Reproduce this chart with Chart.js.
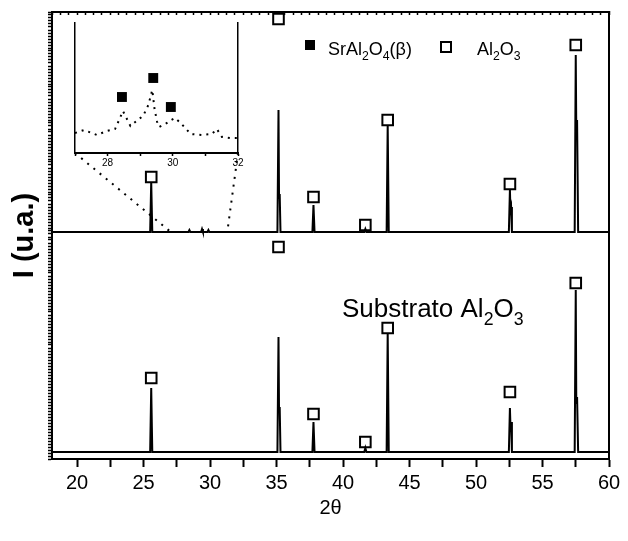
<!DOCTYPE html>
<html>
<head>
<meta charset="utf-8">
<script src="https://cdn.jsdelivr.net/npm/chart.js@4.4.1/dist/chart.umd.min.js"></script>
<style>
  body { margin: 0; background: #fff; }
  #wrap { position: relative; width: 628px; height: 541px; }
  #inset { position: absolute; left: 65px; top: 15px; }
</style>
</head>
<body>
<div id="wrap">
  <canvas id="xrd" width="628" height="541"></canvas>
  <canvas id="inset" width="190" height="165"></canvas>
</div>
<script>
// film on sapphire (upper pattern), intensity above its own baseline
const filmAngle = [18.12, 25.50, 25.58, 25.66, 28.38, 28.45, 28.52, 29.33, 29.40, 29.47, 29.81, 29.88, 29.95,
  35.07, 35.15, 35.19, 35.24, 35.30, 37.70, 37.78, 37.86, 41.60, 41.68, 41.76, 43.28, 43.36, 43.44,
  52.47, 52.55, 52.59, 52.64, 52.70, 57.42, 57.50, 57.54, 57.60, 57.68, 60.00];
const filmCount = [0, 0, 50, 0, 0, 2, 0, 0, 3, 0, 0, 2, 0,
  0, 122, 34, 38, 0, 0, 27, 0, 0, 3, 0, 0, 107, 0,
  0, 42, 22, 25, 0, 0, 177, 100, 112, 0, 0];

// bare substrate (lower pattern)
const subAngle = [18.12, 25.50, 25.58, 25.66, 35.07, 35.15, 35.19, 35.24, 35.30, 37.70, 37.78, 37.86,
  41.60, 41.68, 41.76, 43.28, 43.36, 43.44, 52.47, 52.55, 52.59, 52.64, 52.70,
  57.42, 57.50, 57.54, 57.60, 57.68, 60.00];
const subCount = [0, 0, 64, 0, 0, 115, 40, 45, 0, 0, 30, 0,
  0, 4, 0, 0, 119, 0, 0, 44, 26, 30, 0,
  0, 162, 48, 55, 0, 0];

// vertical shift of the film pattern
const filmOffset = 220;

// Al2O3 reflections and where their open squares sit
const peakAngle = [25.58, 35.15, 37.78, 41.68, 43.36, 52.55, 57.50];
const filmMark = [55, 213, 35, 7, 112, 48, 187];
const subMark = [74, 205, 38, 10, 124, 60, 169];

// inset: SrAl2O4 region of the film pattern
const insetAngle = [27.00, 27.28, 27.67, 27.97, 28.23, 28.38, 28.47, 28.70, 28.96, 29.09, 29.25, 29.37, 29.44,
  29.52, 29.58, 29.82, 29.95, 30.07, 30.24, 30.55, 30.90, 31.20, 31.35, 31.51, 31.75, 32.00];
const insetCount = [20, 23, 18, 22, 24, 35, 42, 27, 34, 37, 48, 63, 44,
  31, 26, 30, 33, 35, 30, 19, 18, 19, 24, 16, 15, 15];
const srAngle = [28.44, 29.40, 29.94];
const srMark = [56, 75, 46];

// tick labels
const xLabels = [20, 25, 30, 35, 40, 45, 50, 55, 60];
const insetLabels = [28, 30, 32];

// where the zoom guides meet the film pattern
const zoomFoot = [27.05, 31.3];

const FAM = "'Liberation Sans', Arial, sans-serif";

function pts(xs, ys, dy) {
  return xs.map((x, i) => ({ x: x, y: ys[i] + (dy || 0) }));
}

// text with "_n" subscripts
function chem(ctx, text, x, y, size) {
  let sub = false;
  ctx.textBaseline = "alphabetic";
  ctx.textAlign = "left";
  for (const ch of text) {
    if (ch === "_") { sub = true; continue; }
    const s = sub ? size * 0.68 : size;
    ctx.font = s + "px " + FAM;
    ctx.fillText(ch, x, sub ? y + size * 0.3 : y);
    x += ctx.measureText(ch).width;
    sub = false;
  }
  return x;
}

const insetChart = new Chart(document.getElementById("inset"), {
  type: "line",
  data: {
    datasets: [
      {
        data: pts(insetAngle, insetCount),
        borderColor: "#000",
        borderWidth: 2,
        borderDash: [2, 5],
        pointRadius: 0,
      },
      {
        data: pts(srAngle, srMark),
        showLine: false,
        pointStyle: "rect",
        pointRadius: 7,
        backgroundColor: "#000",
        borderColor: "#000",
        borderWidth: 0,
      },
    ],
  },
  options: {
    responsive: false,
    animation: false,
    events: [],
    layout: { padding: { left: 10, right: 17, top: 8, bottom: 0 } },
    plugins: { legend: { display: false }, tooltip: { enabled: false } },
    scales: {
      x: {
        type: "linear",
        min: 27,
        max: 32,
        ticks: {
          stepSize: 1,
          autoSkip: false,
          maxRotation: 0,
          padding: 1,
          color: "#000",
          font: { family: FAM, size: 10 },
          callback: (v) => (insetLabels.includes(v) ? String(v) : ""),
        },
        grid: { drawOnChartArea: false, tickLength: 3, tickWidth: 1.5, tickColor: "#000" },
        border: { color: "#000", width: 2 },
        afterFit: (s) => { s.height = 27; },
      },
      y: {
        min: 0,
        max: 130,
        ticks: { display: false },
        grid: { display: false },
        border: { color: "#000", width: 1.5, dash: [5, 2, 1.5, 2] },
        afterFit: (s) => { s.width = 0; },
      },
      y2: {
        position: "right",
        min: 0,
        max: 130,
        ticks: { display: false },
        grid: { display: false },
        border: { color: "#000", width: 1.5, dash: [5, 2, 1.5, 2] },
        afterFit: (s) => { s.width = 0; },
      },
    },
  },
});

const decorations = {
  id: "decorations",
  afterDatasetsDraw(chart) {
    const ctx = chart.ctx;
    const xs = chart.scales.x;
    const ys = chart.scales.y;
    const el = document.getElementById("inset");
    const box = insetChart.chartArea;
    const ox = el.offsetLeft;
    const oy = el.offsetTop;
    const base = ys.getPixelForValue(filmOffset);

    // dotted guides from the inset down to the film pattern
    ctx.save();
    ctx.strokeStyle = "#000";
    ctx.lineWidth = 2;
    ctx.setLineDash([2, 6]);
    ctx.beginPath();
    ctx.moveTo(ox + box.left, oy + box.bottom);
    ctx.lineTo(xs.getPixelForValue(zoomFoot[0]), base);
    ctx.moveTo(ox + box.right, oy + box.bottom);
    ctx.lineTo(xs.getPixelForValue(zoomFoot[1]), base);
    ctx.stroke();
    ctx.restore();
  },
  afterDraw(chart) {
    const ctx = chart.ctx;
    ctx.save();
    ctx.fillStyle = "#000";
    ctx.strokeStyle = "#000";

    // legend
    ctx.fillRect(305, 40, 10, 10);
    chem(ctx, "SrAl_2O_4(β)", 328, 55, 18);
    ctx.lineWidth = 2;
    ctx.strokeRect(441, 42, 10, 10);
    chem(ctx, "Al_2O_3", 477, 55, 18);

    // label of the lower pattern
    chem(ctx, "Substrato Al_2O_3", 342, 317, 26);
    ctx.restore();
  },
};

const markerStyle = {
  showLine: false,
  pointStyle: "rect",
  pointRadius: 7.5,
  borderWidth: 2,
  borderColor: "#000",
  backgroundColor: "#fff",
  xAxisID: "x",
  yAxisID: "y",
};

new Chart(document.getElementById("xrd"), {
  type: "line",
  data: {
    datasets: [
      {
        data: pts(filmAngle, filmCount, filmOffset),
        borderColor: "#000",
        borderWidth: 2,
        pointRadius: 0,
        xAxisID: "x",
        yAxisID: "y",
      },
      {
        data: pts(subAngle, subCount),
        borderColor: "#000",
        borderWidth: 2,
        pointRadius: 0,
        xAxisID: "x",
        yAxisID: "y",
      },
      Object.assign({ data: pts(peakAngle, filmMark, filmOffset) }, markerStyle),
      Object.assign({ data: pts(peakAngle, subMark) }, markerStyle),
    ],
  },
  options: {
    responsive: false,
    animation: false,
    events: [],
    layout: { padding: { left: 0, right: 19, top: 12, bottom: 0 } },
    plugins: { legend: { display: false }, tooltip: { enabled: false } },
    scales: {
      x: {
        type: "linear",
        position: "bottom",
        min: 18.12,
        max: 60,
        ticks: {
          stepSize: 2.5,
          includeBounds: false,
          autoSkip: false,
          maxRotation: 0,
          padding: 4,
          color: "#000",
          font: { family: FAM, size: 20 },
          callback: (v) => (xLabels.includes(v) ? String(v) : ""),
        },
        grid: { drawOnChartArea: false, tickLength: 8, tickWidth: 2, tickColor: "#000" },
        border: { color: "#000", width: 2 },
        title: {
          display: true,
          text: "2θ",
          color: "#000",
          font: { family: FAM, size: 20 },
          padding: { top: 0, bottom: 21 },
        },
        afterFit: (s) => { s.height = 82; },
      },
      xTop: {
        type: "linear",
        position: "top",
        min: 18.12,
        max: 60,
        ticks: { display: false, stepSize: 0.625, includeBounds: false },
        grid: { drawOnChartArea: false, tickLength: -3, tickWidth: 1.5, tickColor: "#000" },
        border: { color: "#000", width: 2 },
        afterFit: (s) => { s.height = 0; },
      },
      y: {
        position: "left",
        min: -7,
        max: 440,
        ticks: { display: false, stepSize: 3, includeBounds: false },
        grid: { drawOnChartArea: false, tickLength: 4, tickWidth: 1.5, tickColor: "#000" },
        border: { color: "#000", width: 2 },
        title: {
          display: true,
          text: "I (u.a.)",
          color: "#000",
          font: { family: FAM, size: 29, weight: "bold" },
          padding: { top: 8, bottom: 0 },
        },
        afterFit: (s) => { s.width = 52; },
      },
      yRight: {
        position: "right",
        min: -7,
        max: 440,
        ticks: { display: false },
        grid: { display: false },
        border: { color: "#000", width: 2 },
        afterFit: (s) => { s.width = 0; },
      },
    },
  },
  plugins: [decorations],
});
</script>
</body>
</html>
